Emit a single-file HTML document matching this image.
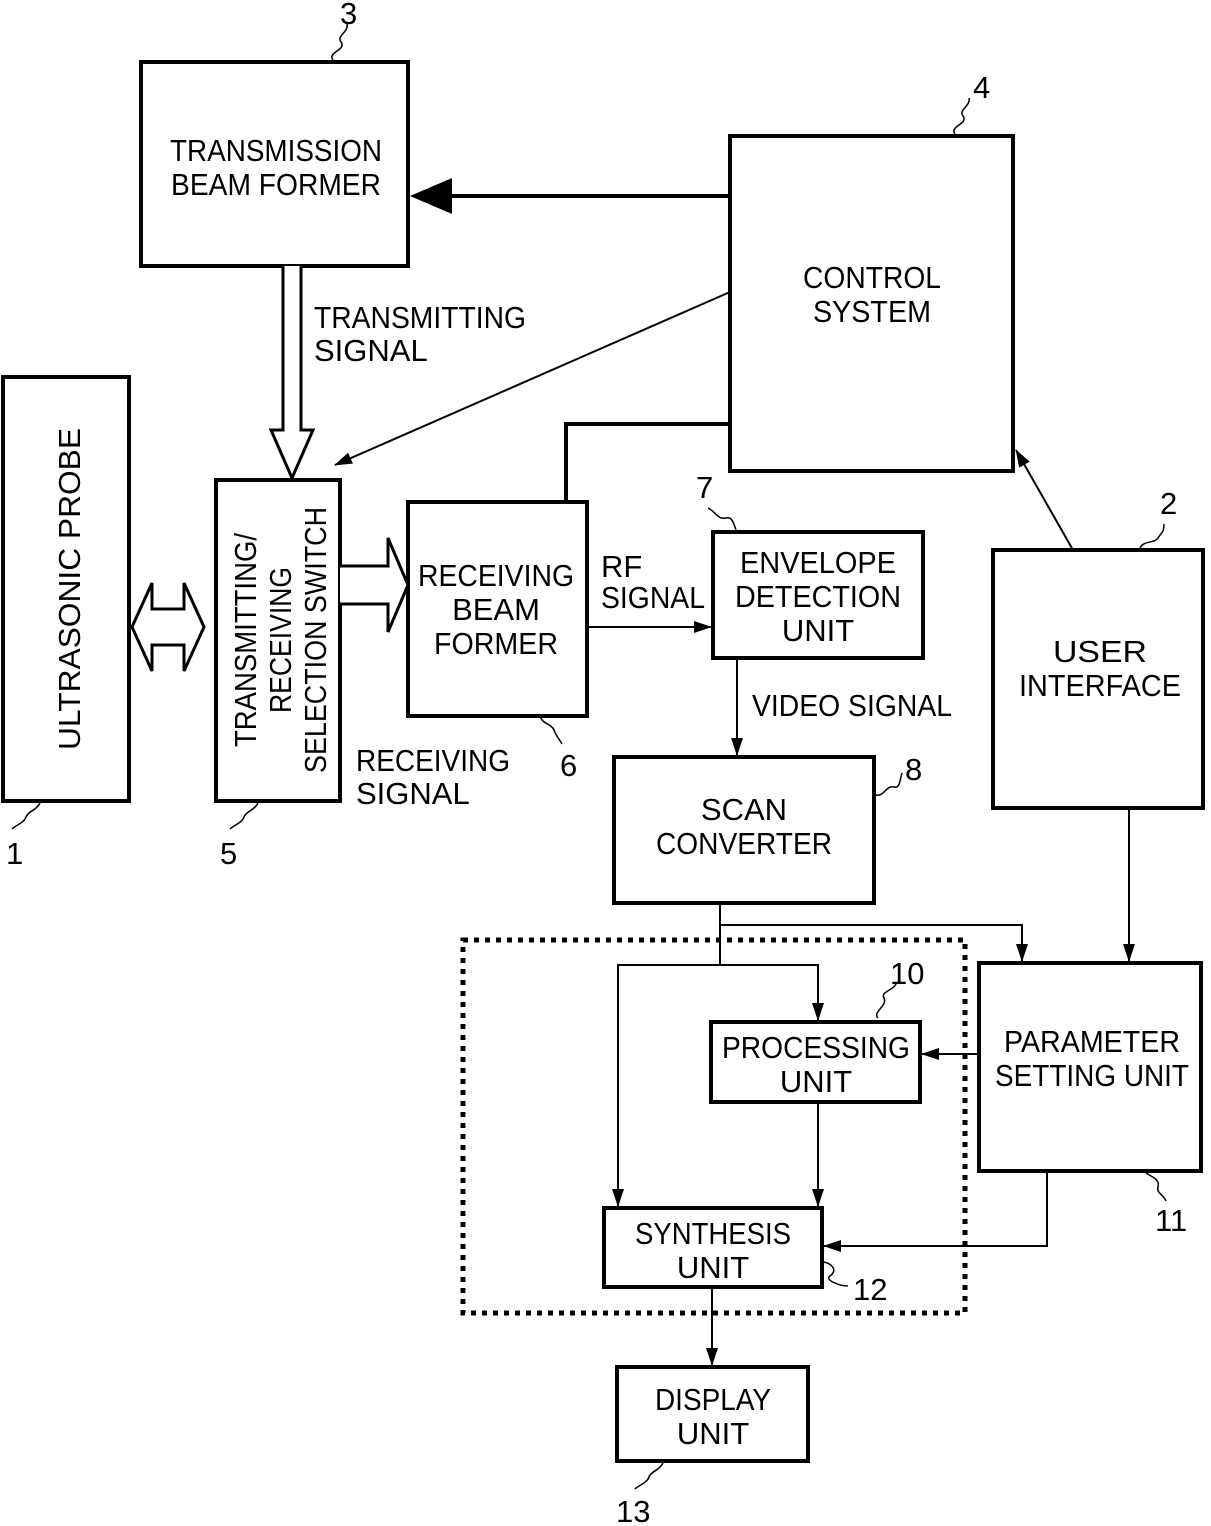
<!DOCTYPE html>
<html><head><meta charset="utf-8"><style>
html,body{margin:0;padding:0;background:#fff}
svg{display:block}
text{font-family:"Liberation Sans",sans-serif;font-size:31px;fill:#000}
</style></head><body>
<svg width="1211" height="1526" viewBox="0 0 1211 1526" xmlns="http://www.w3.org/2000/svg">
<defs>
<marker id="a" markerWidth="18" markerHeight="12" refX="17" refY="6" orient="auto" markerUnits="userSpaceOnUse" viewBox="0 0 18 12"><path d="M0,0 L18,6 L0,12 z"/></marker>
</defs>
<g fill="none" stroke="#000" stroke-width="4">
<rect x="3" y="377" width="126" height="424"/>
<rect x="141" y="62" width="267" height="204"/>
<rect x="730" y="136" width="283" height="335"/>
<rect x="216" y="480" width="124" height="321"/>
<rect x="408" y="502" width="179" height="214"/>
<rect x="713" y="532" width="210" height="126"/>
<rect x="993" y="550" width="210" height="258"/>
<rect x="614" y="757" width="260" height="146"/>
<rect x="979" y="963" width="222" height="208"/>
<rect x="711" y="1022" width="209" height="80"/>
<rect x="604" y="1208" width="218" height="79"/>
<rect x="617" y="1367" width="191" height="94"/>
<path d="M730,424 H566 V502"/>
<path d="M730,196 H450"/>
</g>
<path d="M410,196 L452,178 L452,214 z"/>
<rect x="463" y="940" width="502" height="373" fill="none" stroke="#000" stroke-width="5" stroke-dasharray="5,6"/>
<path d="M283,266 V430 H271 L292,478 L313,430 H301 V266" fill="#fff" stroke="#000" stroke-width="3"/>
<path d="M132,627 L152,583 V609 H184 V583 L204,627 L184,671 V645 H152 V671 z" fill="#fff" stroke="#000" stroke-width="3"/>
<path d="M340,566 H388 V538 L408,585 L388,632 V604 H340" fill="#fff" stroke="#000" stroke-width="3"/>
<g fill="none" stroke="#000" stroke-width="2" marker-end="url(#a)">
<line x1="730" y1="292" x2="335" y2="465"/>
<line x1="587" y1="627" x2="711" y2="627"/>
<line x1="737" y1="658" x2="737" y2="755"/>
<path d="M720,925 H1022 V961"/>
<path d="M720,903 V965 H618 V1206"/>
<path d="M720,965 H818 V1020"/>
<line x1="1129" y1="808" x2="1129" y2="961"/>
<line x1="1073" y1="550" x2="1016" y2="450"/>
<line x1="979" y1="1054" x2="922" y2="1054"/>
<line x1="818" y1="1102" x2="818" y2="1206"/>
<path d="M1047,1171 V1246 H824"/>
<line x1="712" y1="1287" x2="712" y2="1365"/>
</g>
<g fill="none" stroke="#000" stroke-width="1.5">
<path d="M333,60 c-6,-8 14,-10 8,-18 c-5,-6 8,-10 6,-18"/>
<path d="M955,134 c-6,-8 14,-10 8,-18 c-5,-6 8,-10 6,-18"/>
<path d="M1140,548 c4,-8 14,-4 18,-10 c4,-6 6,-6 6,-14"/>
<path d="M708,508 c8,4 10,12 18,10 c6,-2 8,6 10,12"/>
<path d="M876,795 c8,2 10,-10 18,-8 c6,2 6,-8 8,-14"/>
<path d="M878,1018 c-6,-6 10,-12 6,-20 c-4,-6 10,-8 12,-14"/>
<path d="M1146,1173 c6,4 14,6 12,14 c-2,6 6,8 8,14"/>
<path d="M824,1262 c8,2 14,8 6,14 c-6,4 10,10 18,10"/>
<path d="M540,716 c2,8 12,8 14,14 c2,6 6,10 8,14"/>
<path d="M258,803 c-4,8 -12,8 -14,14 c-2,6 -10,8 -14,12"/>
<path d="M40,803 c-4,8 -12,8 -14,14 c-2,6 -10,8 -14,12"/>
<path d="M663,1463 c-4,8 -12,8 -14,14 c-2,6 -10,8 -14,12"/>
</g>
<g text-anchor="middle">
<text x="276" y="161" textLength="212" lengthAdjust="spacingAndGlyphs">TRANSMISSION</text>
<text x="276" y="195" textLength="210" lengthAdjust="spacingAndGlyphs">BEAM FORMER</text>
<text x="872" y="288" textLength="138" lengthAdjust="spacingAndGlyphs">CONTROL</text>
<text x="872" y="322" textLength="118" lengthAdjust="spacingAndGlyphs">SYSTEM</text>
<text x="496" y="586" textLength="156" lengthAdjust="spacingAndGlyphs">RECEIVING</text>
<text x="496" y="620">BEAM</text>
<text x="496" y="654" textLength="124" lengthAdjust="spacingAndGlyphs">FORMER</text>
<text x="818" y="573" textLength="156" lengthAdjust="spacingAndGlyphs">ENVELOPE</text>
<text x="818" y="607" textLength="166" lengthAdjust="spacingAndGlyphs">DETECTION</text>
<text x="818" y="641">UNIT</text>
<text x="1100" y="662" textLength="94" lengthAdjust="spacingAndGlyphs">USER</text>
<text x="1100" y="696" textLength="162" lengthAdjust="spacingAndGlyphs">INTERFACE</text>
<text x="744" y="820">SCAN</text>
<text x="744" y="854" textLength="176" lengthAdjust="spacingAndGlyphs">CONVERTER</text>
<text x="1092" y="1052" textLength="176" lengthAdjust="spacingAndGlyphs">PARAMETER</text>
<text x="1092" y="1086" textLength="194" lengthAdjust="spacingAndGlyphs">SETTING UNIT</text>
<text x="816" y="1058" textLength="188" lengthAdjust="spacingAndGlyphs">PROCESSING</text>
<text x="816" y="1092">UNIT</text>
<text x="713" y="1244" textLength="156" lengthAdjust="spacingAndGlyphs">SYNTHESIS</text>
<text x="713" y="1278">UNIT</text>
<text x="713" y="1410" textLength="116" lengthAdjust="spacingAndGlyphs">DISPLAY</text>
<text x="713" y="1444">UNIT</text>
<text transform="translate(80,589) rotate(-90)" textLength="322" lengthAdjust="spacingAndGlyphs">ULTRASONIC PROBE</text>
<text transform="translate(256,640) rotate(-90)" textLength="214" lengthAdjust="spacingAndGlyphs">TRANSMITTING/</text>
<text transform="translate(291,640) rotate(-90)" textLength="146" lengthAdjust="spacingAndGlyphs">RECEIVING</text>
<text transform="translate(326,640) rotate(-90)" textLength="266" lengthAdjust="spacingAndGlyphs">SELECTION SWITCH</text>
</g>
<g>
<text x="314" y="328" textLength="212" lengthAdjust="spacingAndGlyphs">TRANSMITTING</text>
<text x="314" y="361">SIGNAL</text>
<text x="356" y="771" textLength="154" lengthAdjust="spacingAndGlyphs">RECEIVING</text>
<text x="356" y="804">SIGNAL</text>
<text x="601" y="577">RF</text>
<text x="601" y="608" textLength="104" lengthAdjust="spacingAndGlyphs">SIGNAL</text>
<text x="752" y="716" textLength="200" lengthAdjust="spacingAndGlyphs">VIDEO SIGNAL</text>
<text x="340" y="24">3</text>
<text x="973" y="98">4</text>
<text x="1160" y="514">2</text>
<text x="696" y="498">7</text>
<text x="905" y="780">8</text>
<text x="560" y="776">6</text>
<text x="220" y="864">5</text>
<text x="6" y="864">1</text>
<text x="890" y="984">10</text>
<text x="1155" y="1231">11</text>
<text x="853" y="1300">12</text>
<text x="616" y="1522">13</text>
</g>
</svg>
</body></html>
